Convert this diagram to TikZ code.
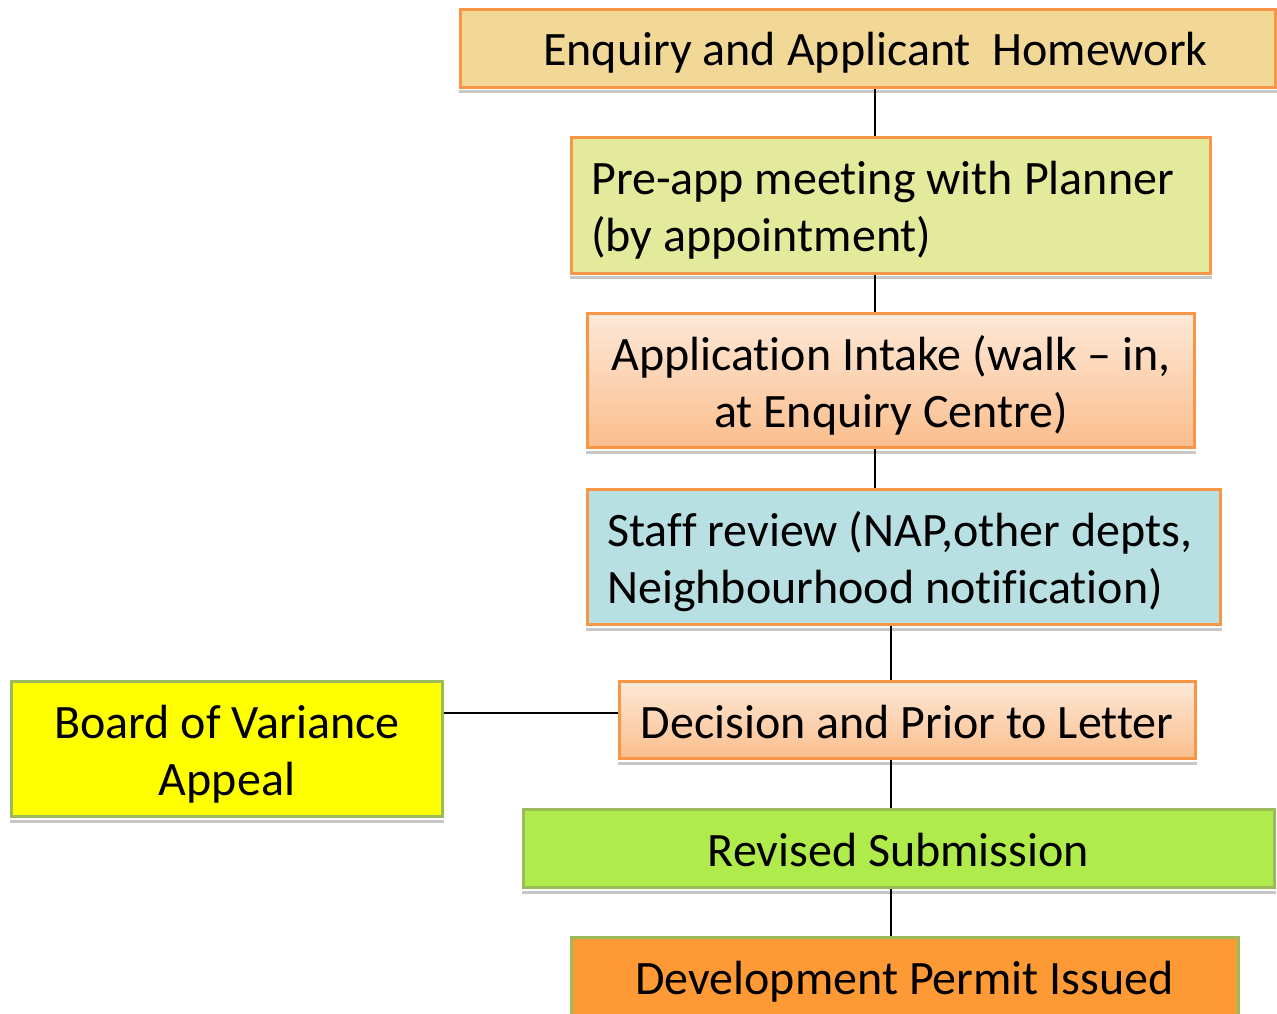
\documentclass[tikz,border=0pt]{standalone}
\usepackage{fontspec}
\setmainfont[Ligatures={NoCommon}]{Carlito}
\definecolor{edgeorange}{HTML}{F79646}
\definecolor{edgegreen}{HTML}{9BBB59}
\definecolor{fillgold}{HTML}{F2D896}
\definecolor{filllime}{HTML}{E3EA9B}
\definecolor{fillblue}{HTML}{B8DFE2}
\definecolor{peachtop}{HTML}{FDE8D7}
\definecolor{peachbot}{HTML}{FBBE8D}
\definecolor{fillyellow}{HTML}{FFFF00}
\definecolor{fillgreen}{HTML}{AFEB4A}
\definecolor{fillorange}{HTML}{FE9A35}
% keep letter pairs such as "ti", "ff", "fi" as separate glyphs
\newcommand{\nolig}{\kern0pt}
\tikzset{
  stepbox/.style={rectangle, draw=edgeorange, line width=3pt, inner sep=0pt},
  greenbox/.style={stepbox, draw=edgegreen},
  peach/.style={top color=peachtop, bottom color=peachbot},
  txt/.style={inner sep=0pt, font=\fontsize{48}{57}\selectfont, anchor=base},
  txtl/.style={txt, anchor=base west},
  link/.style={line width=2pt, black},
  boxshadow/.style={fill=black!22}
}
\newcommand{\shadowunder}[1]{%
  \fill[boxshadow] ([yshift=-1.5pt]#1.south west) rectangle ([yshift=-4.5pt]#1.south east);}
\begin{document}
\begin{tikzpicture}[x=1pt,y=-1pt]
\useasboundingbox (0,0) rectangle (1277,1014);
\fill[white] (0,0) rectangle (1277,1014);

% process boxes
\node[stepbox, fill=fillgold, minimum width=815, minimum height=78] (enq) at (868,48.5) {};
\node[stepbox, fill=filllime, minimum width=639, minimum height=135.5] (pre) at (891,205.25) {};
\node[stepbox, peach, minimum width=607, minimum height=134] (intake) at (891,380.5) {};
\node[stepbox, fill=fillblue, minimum width=633, minimum height=135] (staff) at (904,557) {};
\node[stepbox, peach, minimum width=576, minimum height=77] (dec) at (907.5,720) {};
\node[greenbox, fill=fillyellow, minimum width=431, minimum height=135] (bov) at (227,749) {};
\node[greenbox, fill=fillgreen, minimum width=751, minimum height=78] (rev) at (899,848.5) {};
\node[greenbox, fill=fillorange, minimum width=667, minimum height=80] (dev) at (905,977.5) {};

% thin shadows under the boxes
\shadowunder{enq}
\shadowunder{pre}
\shadowunder{intake}
\shadowunder{staff}
\shadowunder{dec}
\shadowunder{bov}
\shadowunder{rev}

% labels
\node[txt] (enqT) at (875.5,66) {Enquiry and Applicant\ \ Homework};
\node[txtl] (preT1) at (591,194) {Pre-app meeting with Planner};
\node[txtl] (preT2) at (591,251) {(by appointment)};
\node[txt] (intakeT1) at (891,370) {Applicat\nolig ion Intake (walk -- in,};
\node[txt] (intakeT2) at (891,427) {at Enquiry Centre)};
\node[txtl] (staffT1) at (607,546) {Staf\nolig f review (NAP,other depts,};
\node[txtl] (staffT2) at (607,603) {Neighbourhood notif\nolig icat\nolig ion)};
\node[txt] (decT) at (907,738) {Decision and Prior to Letter};
\node[txt] (bovT1) at (227,738) {Board of Variance};
\node[txt] (bovT2) at (227,795) {Appeal};
\node[txt] (revT) at (898.5,866) {Revised Submission};
\node[txt] (devT) at (904.5,994) {Development Permit Issued};

% connector guides
\coordinate (colA) at (875,0);
\coordinate (colB) at (891,0);
\coordinate (rowH) at (0,712.5);

% connectors
\draw[link] (enq.south -| colA) -- (pre.north -| colA);
\draw[link] (pre.south -| colA) -- (intake.north -| colA);
\draw[link] (intake.south -| colA) -- (staff.north -| colA);
\draw[link] (staff.south -| colB) -- (dec.north -| colB);
\draw[link] (dec.south -| colB) -- (rev.north -| colB);
\draw[link] (rev.south -| colB) -- (dev.north -| colB);
\draw[link] (bov.east |- rowH) -- (dec.west |- rowH);
\end{tikzpicture}
\end{document}
